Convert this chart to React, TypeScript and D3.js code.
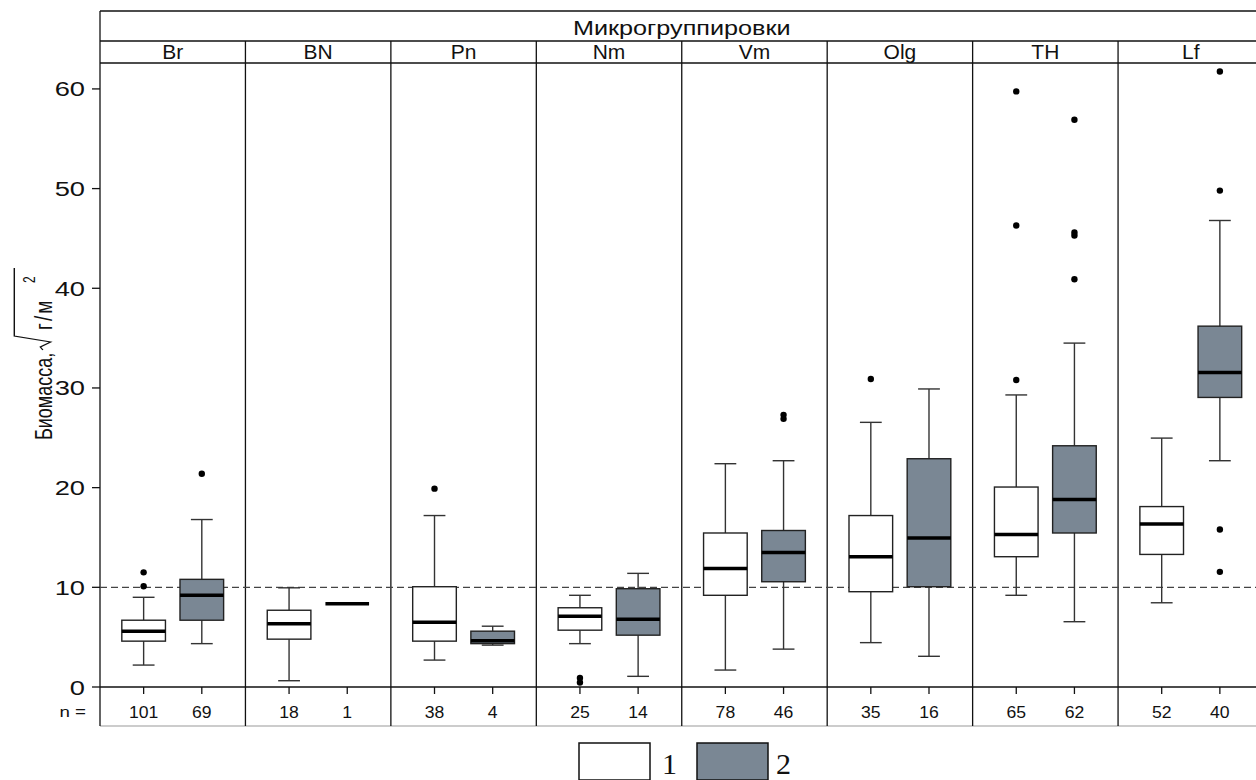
import * as d3 from "d3";
import React from "react";

const categories = ["Br", "BN", "Pn", "Nm", "Vm", "Olg", "TH", "Lf"];
const groups = ["1", "2"];
const yTicks = [0, 10, 20, 30, 40, 50, 60];

// group 1 (white boxes)
const n1 = [101, 18, 38, 25, 78, 35, 65, 52];
const low1 = [2.2, 0.63, 2.7, 4.35, 1.7, 4.45, 9.2, 8.45];
const q1a = [4.6, 4.8, 4.6, 5.7, 9.2, 9.56, 13.07, 13.3];
const med1 = [5.6, 6.35, 6.5, 7.1, 11.9, 13.07, 15.3, 16.35];
const q3a = [6.7, 7.7, 10.06, 7.95, 15.45, 17.2, 20.06, 18.1];
const high1 = [9.0, 9.95, 17.2, 9.2, 22.4, 26.55, 29.3, 24.97];
const out1 = [[11.5, 10.1], [], [19.9], [0.9, 0.45], [], [30.9], [59.75, 46.3, 30.8], []];

// group 2 (grey boxes)
const n2 = [69, 1, 4, 14, 46, 16, 62, 40];
const low2 = [4.35, 8.35, 4.2, 1.07, 3.8, 3.08, 6.55, 22.7];
const q1b = [6.7, 8.35, 4.35, 5.2, 10.56, 10.06, 15.45, 29.05];
const med2 = [9.2, 8.35, 4.65, 6.8, 13.5, 14.95, 18.8, 31.56];
const q3b = [10.8, 8.35, 5.6, 9.86, 15.7, 22.9, 24.2, 36.2];
const high2 = [16.8, 8.35, 6.1, 11.4, 22.7, 29.9, 34.5, 46.8];
const out2 = [[21.4], [], [], [], [27.3, 26.9], [], [56.9, 45.6, 45.3, 40.9], [61.75, 49.8, 15.8, 11.55]];

const refLine = 10;
const fills = ["#ffffff", "#7a8794"];

const W = 1256;
const H = 780;
const left = 100;
const right = 1263.5;
const topY = 11;
const titleBottom = 41;
const catBottom = 63;
const zeroY = 687;
const nBottom = 726;
const font = "'Liberation Sans', Arial, sans-serif";
const serif = "'Liberation Serif', 'Times New Roman', serif";

// text stretched horizontally, like the source image
const Wide = ({ x, y, sx, size, anchor, children }: any) => (
  <text
    transform={`translate(${x},${y}) scale(${sx},1)`}
    textAnchor={anchor || "start"}
    fontSize={size}
    fill="#111"
  >
    {children}
  </text>
);

export default function App() {
  const x = d3.scaleBand().domain(categories).range([left, right]);
  const bw = x.bandwidth();
  const inner = d3.scalePoint().domain(groups).range([bw * 0.3, bw * 0.7]);
  const y = d3.scaleLinear().domain([0, 62.6]).range([zeroY, catBottom]);
  const boxW = bw * 0.3;
  const capW = boxW / 2;

  const series = [
    { g: "1", n: n1, low: low1, q1: q1a, med: med1, q3: q3a, high: high1, out: out1, fill: fills[0] },
    { g: "2", n: n2, low: low2, q1: q1b, med: med2, q3: q3b, high: high2, out: out2, fill: fills[1] },
  ];

  return (
    <div style={{ position: "absolute", left: 0, top: 0 }}>
      <svg width={W} height={H} style={{ display: "block" }} fontFamily={font}>
        <rect x={0} y={0} width={W} height={H} fill="#fff" />

        {/* frame */}
        <line x1={left} x2={W} y1={topY} y2={topY} stroke="#111" strokeWidth={1.3} />
        <line x1={left} x2={W} y1={titleBottom} y2={titleBottom} stroke="#111" strokeWidth={1.3} />
        <line x1={left} x2={W} y1={catBottom} y2={catBottom} stroke="#111" strokeWidth={1.3} />
        <line x1={left} x2={W} y1={zeroY} y2={zeroY} stroke="#111" strokeWidth={1.3} />
        <line x1={left} x2={W} y1={nBottom} y2={nBottom} stroke="#999" strokeWidth={1} />
        <line x1={left} x2={left} y1={topY} y2={nBottom} stroke="#111" strokeWidth={1.3} />
        {categories.slice(1).map((c) => (
          <line key={c} x1={x(c)} x2={x(c)} y1={titleBottom} y2={nBottom} stroke="#111" strokeWidth={1.3} />
        ))}

        <Wide x={(left + right) / 2} y={35} sx={1.2} size={21} anchor="middle">
          Микрогруппировки
        </Wide>
        {categories.map((c) => (
          <Wide key={c} x={x(c)! + bw / 2} y={59} sx={1.05} size={20} anchor="middle">
            {c}
          </Wide>
        ))}

        {/* y axis */}
        {yTicks.map((t) => (
          <g key={t}>
            <line x1={92} x2={left} y1={y(t)} y2={y(t)} stroke="#111" strokeWidth={1.3} />
            <Wide x={85} y={y(t) + 7.5} sx={1.3} size={21} anchor="end">
              {t}
            </Wide>
          </g>
        ))}

        {/* reference line */}
        <line x1={left} x2={W} y1={y(refLine)} y2={y(refLine)} stroke="#444" strokeWidth={1.3} strokeDasharray="7,4" />

        {/* y label */}
        <g transform="translate(52,440) rotate(-90) scale(1,1.3)" fill="#111">
          <text x={0} y={0} fontSize={18}>Биомасса,</text>
          <path d="M90,-7 L93,-9 L98,-1 L104,-29 L172,-29" fill="none" stroke="#111" strokeWidth={1.1} />
          <text x={110} y={0} fontSize={19} letterSpacing={2}>г/м</text>
          <text x={157} y={-13} fontSize={12}>2</text>
        </g>

        {/* boxes */}
        {series.map((s) =>
          categories.map((c, i) => {
            const cx = x(c)! + inner(s.g)!;
            if (s.n[i] === 1) {
              return (
                <line key={s.g + c} x1={cx - boxW / 2} x2={cx + boxW / 2} y1={y(s.med[i])} y2={y(s.med[i])} stroke="#000" strokeWidth={3.5} />
              );
            }
            return (
              <g key={s.g + c}>
                <line x1={cx} x2={cx} y1={y(s.high[i])} y2={y(s.q3[i])} stroke="#333" strokeWidth={1.4} />
                <line x1={cx} x2={cx} y1={y(s.q1[i])} y2={y(s.low[i])} stroke="#333" strokeWidth={1.4} />
                <line x1={cx - capW / 2} x2={cx + capW / 2} y1={y(s.high[i])} y2={y(s.high[i])} stroke="#333" strokeWidth={1.4} />
                <line x1={cx - capW / 2} x2={cx + capW / 2} y1={y(s.low[i])} y2={y(s.low[i])} stroke="#333" strokeWidth={1.4} />
                <rect
                  x={cx - boxW / 2}
                  y={y(s.q3[i])}
                  width={boxW}
                  height={y(s.q1[i]) - y(s.q3[i])}
                  fill={s.fill}
                  stroke="#222"
                  strokeWidth={1.4}
                />
                <line x1={cx - boxW / 2} x2={cx + boxW / 2} y1={y(s.med[i])} y2={y(s.med[i])} stroke="#000" strokeWidth={3.5} />
                {s.out[i].map((v, k) => (
                  <circle key={k} cx={cx} cy={y(v)} r={3.2} fill="#000" />
                ))}
              </g>
            );
          })
        )}

        {/* n row */}
        <Wide x={86} y={717} sx={1.25} size={15} anchor="end">
          n =
        </Wide>
        {series.map((s) =>
          categories.map((c, i) => {
            const cx = x(c)! + inner(s.g)!;
            return (
              <g key={"n" + s.g + c}>
                <line x1={cx} x2={cx} y1={zeroY} y2={zeroY + 7} stroke="#111" strokeWidth={1.3} />
                <Wide x={cx} y={718} sx={1.1} size={16} anchor="middle">
                  {s.n[i]}
                </Wide>
              </g>
            );
          })
        )}

        {/* legend */}
        <rect x={579} y={743} width={71} height={37} fill={fills[0]} stroke="#111" strokeWidth={1.5} />
        <text x={662} y={774} fontSize={30} fontFamily={serif} fill="#111">
          1
        </text>
        <rect x={697} y={743} width={71} height={37} fill={fills[1]} stroke="#111" strokeWidth={1.5} />
        <text x={776} y={774} fontSize={30} fontFamily={serif} fill="#111">
          2
        </text>
      </svg>
    </div>
  );
}
